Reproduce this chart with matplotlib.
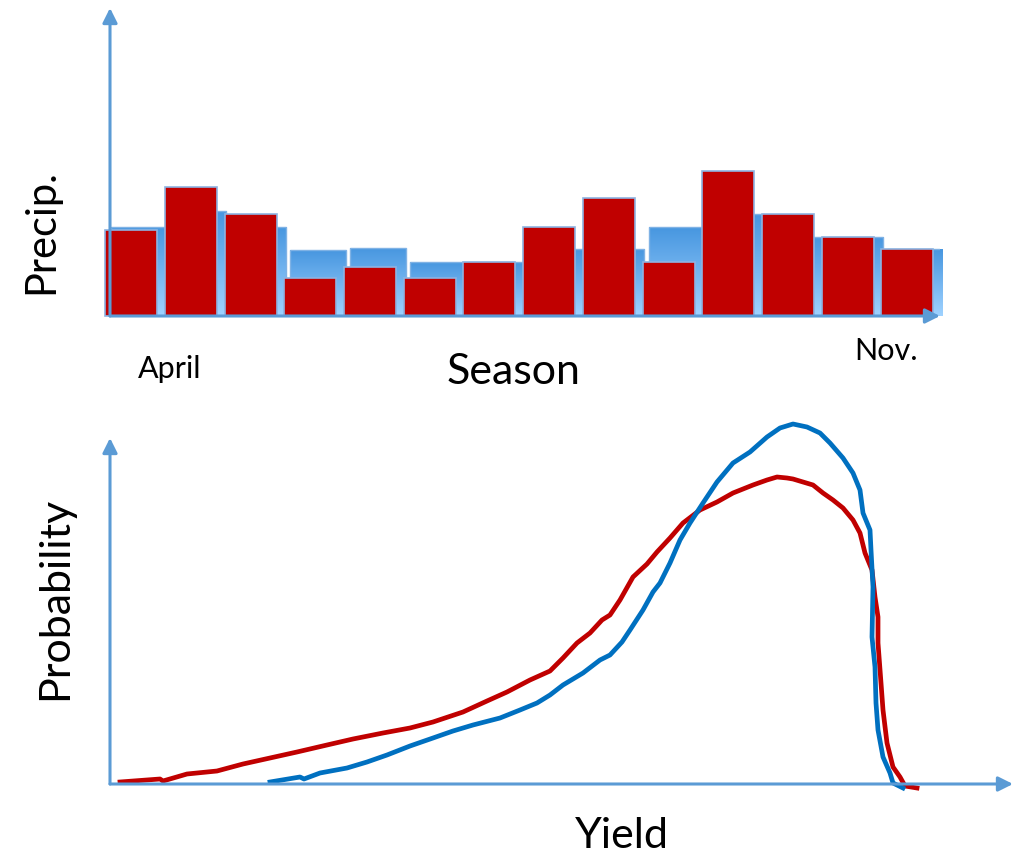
import numpy as np
import matplotlib.pyplot as plt
from matplotlib.colors import LinearSegmentedColormap

plt.rcParams['font.family'] = ['Lato', 'DejaVu Sans']

# monthly precipitation, April .. Nov. (two seasons, arbitrary units)
months = list(range(14))
precip_blue = [89, 105, 89, 66, 68, 54, 54, 67, 67, 89, 102, 79, 79, 67]
precip_red = [86, 129, 102, 38, 49, 38, 54, 89, 118, 54, 145, 102, 79, 67]

# yield probability curves (arbitrary units)
yield_red = [10, 50, 53, 77, 107, 133, 160, 187, 217, 243, 273, 300, 323, 353,
             377, 397, 420, 440, 453, 467, 480, 492, 500, 510, 523, 537, 547,
             560, 573, 590, 607, 623, 643, 657, 667, 677, 683, 703, 713, 723,
             733, 743, 750, 755, 762, 765, 768, 768, 771, 773, 777, 783, 790,
             795, 807]
prob_red = [2, 5, 3, 10, 13, 20, 26, 32, 39, 45, 51, 56, 62, 72, 83, 92, 104,
            113, 126, 141, 151, 164, 169, 184, 207, 220, 232, 246, 261, 274,
            282, 291, 299, 304, 307, 306, 305, 299, 291, 284, 276, 264, 251,
            231, 214, 187, 167, 141, 101, 74, 41, 17, 7, -2, -4]
yield_blue = [160, 190, 194, 210, 237, 257, 277, 300, 323, 343, 363, 390, 410,
              427, 440, 453, 473, 490, 500, 512, 520, 533, 543, 550, 560, 570,
              580, 593, 607, 623, 640, 657, 670, 683, 697, 710, 720, 733, 743,
              750, 753, 760, 761, 763, 762, 765, 766, 768, 773, 780, 783, 793]
prob_blue = [2, 7, 5, 11, 16, 22, 29, 38, 46, 53, 59, 66, 74, 81, 89, 99, 111,
             124, 129, 142, 154, 174, 192, 201, 221, 244, 261, 281, 302, 321,
             332, 347, 356, 360, 357, 351, 341, 326, 311, 294, 271, 254, 234,
             197, 147, 117, 81, 54, 27, 11, 1, -4]

AXIS = '#5b9bd5'
RED = '#c00000'
BLUE_LINE = '#0070c0'
W, H = 1014, 855

fig = plt.figure(figsize=(W / 100, H / 100), dpi=100)


def draw_axes_arrows(ax):
    style = dict(arrowstyle='-|>', color=AXIS, lw=2.2, mutation_scale=22,
                 shrinkA=0, shrinkB=0)
    ax.annotate('', xy=(1, 0), xytext=(0, 0), xycoords='axes fraction',
                arrowprops=style, zorder=5)
    ax.annotate('', xy=(0, 1), xytext=(0, 0), xycoords='axes fraction',
                arrowprops=style, zorder=5)


# ---- top panel: precipitation bars ----
ax1 = fig.add_axes([110 / W, 1 - 316 / H, 830 / W, 308 / H])
ax1.set_axis_off()

grad = LinearSegmentedColormap.from_list('g', ['#9fd2ff', '#4897e0'])
blue_bars = ax1.bar(np.array(months) + 0.1, precip_blue, width=0.93,
                    align='edge', color='none', edgecolor='#7fb2e5', lw=1,
                    zorder=2)
for b in blue_bars:
    x0 = b.get_x()
    h = b.get_height()
    img = ax1.imshow(np.linspace(0, 1, 64).reshape(-1, 1), cmap=grad,
                     origin='lower', aspect='auto',
                     extent=[x0, x0 + b.get_width(), 0, h], zorder=1)
    img.set_clip_path(b)
ax1.bar(months, precip_red, width=0.87, align='edge', color=RED,
        edgecolor='#8db3e2', lw=1.2, zorder=3, clip_on=False)
ax1.set_xlim(0.08, 13.98)
ax1.set_ylim(0, 308)
draw_axes_arrows(ax1)

# ---- bottom panel: yield distributions ----
ax2 = fig.add_axes([110 / W, 1 - 784 / H, 903 / W, 346 / H])
ax2.set_axis_off()
ax2.plot(yield_red, prob_red, color=RED, lw=3.4, clip_on=False, zorder=3,
         solid_joinstyle='round')
ax2.plot(yield_blue, prob_blue, color=BLUE_LINE, lw=3.4, clip_on=False,
         zorder=4, solid_joinstyle='round')
ax2.set_xlim(0, 903)
ax2.set_ylim(0, 346)
draw_axes_arrows(ax2)

# ---- labels ----
fig.text(53 / W, 1 - 232 / H, 'Precip.', fontsize=30, rotation=90,
         rotation_mode='anchor', ha='center', va='baseline')
fig.text(67 / W, 1 - 598 / H, 'Probability', fontsize=31, rotation=90,
         rotation_mode='anchor', ha='center', va='baseline')
fig.text(514 / W, 1 - 384 / H, 'Season', fontsize=31, ha='center',
         va='baseline')
fig.text(622 / W, 1 - 848 / H, 'Yield', fontsize=31, ha='center',
         va='baseline')
fig.text(170 / W, 1 - 378 / H, 'April', fontsize=22, ha='center',
         va='baseline')
fig.text(886 / W, 1 - 360 / H, 'Nov.', fontsize=22, ha='center',
         va='baseline')

fig.savefig('out.png', dpi=100)
